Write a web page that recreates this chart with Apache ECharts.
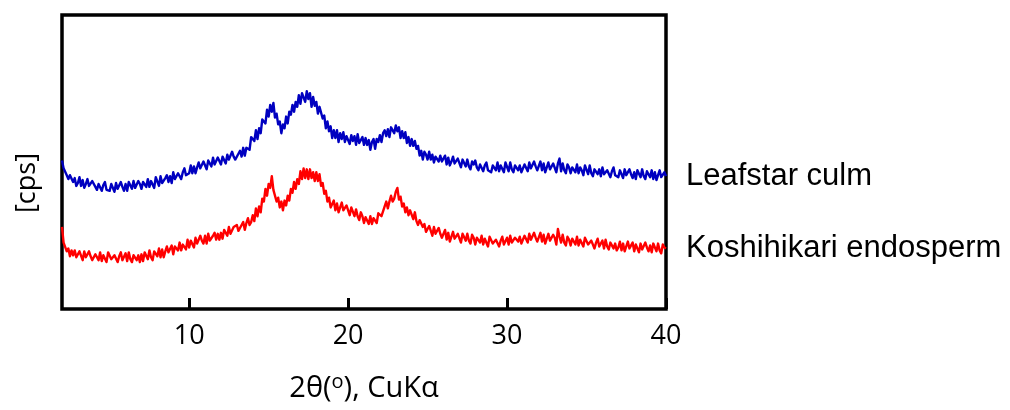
<!DOCTYPE html>
<html>
<head>
<meta charset="utf-8">
<script src="https://cdn.jsdelivr.net/npm/echarts@6/dist/echarts.min.js"></script>
<style>
  html, body { margin: 0; padding: 0; background: #fff; }
  #chart { width: 1010px; height: 410px; }
</style>
</head>
<body>
<div id="chart"></div>
<script>
// XRD scans, 2θ from 2° to 40° in 0.1° steps (relative intensity, cps)
const scanStart = 2.0;
const scanStep = 0.1;

const seriesNames = ['Leafstar culm', 'Koshihikari endosperm'];
const seriesColors = ['#0000c0', '#ff0000'];

const leafstarCulm = [
  152,144,145,137,133,137,138,130,134,126,
  129,135,126,132,124,128,133,126,124,131,
  132,125,122,128,130,121,127,130,122,123,
  121,128,127,120,129,123,122,130,125,121,
  128,121,130,129,123,131,124,122,131,128,
  123,130,132,125,133,125,131,129,124,135,
  134,126,136,129,127,134,137,130,136,129,
  140,133,132,139,141,133,140,144,137,139,
  139,147,139,146,139,145,150,144,143,151,
  149,143,152,152,146,155,148,146,155,153,
  148,156,155,149,158,153,152,161,156,153,
  152,159,162,156,165,157,165,165,163,176,
  178,172,183,174,185,180,194,193,190,204,
  197,209,202,211,196,200,189,192,180,189,
  185,197,190,202,199,209,202,212,207,219,
  210,221,222,212,223,215,221,207,217,208,
  212,200,207,206,195,198,185,192,182,187,
  175,183,175,183,171,180,174,181,171,177,
  178,169,178,172,177,168,179,170,168,176,
  168,175,168,173,163,171,174,164,174,171,
  178,171,180,183,177,184,176,186,185,180,
  188,182,186,175,182,175,181,170,176,167,
  174,167,172,164,167,157,162,153,161,158,
  153,161,153,158,150,156,157,151,157,151,
  151,157,148,155,147,151,156,149,147,154,
  152,145,153,152,146,153,146,143,151,148,
  152,145,142,148,150,141,147,150,142,143,
  140,147,149,142,150,141,147,145,140,150,
  149,141,150,143,140,147,149,142,147,140,
  141,148,148,141,150,144,143,151,146,142,
  144,151,142,149,140,145,150,143,142,149,
  147,140,149,154,141,149,142,139,148,145,
  139,145,147,140,148,139,145,142,137,147,
  146,138,147,139,136,143,145,138,143,136,
  145,138,136,142,144,135,141,145,137,137,
  135,142,141,134,143,137,136,143,138,134,
  140,133,142,141,135,143,136,133,141,138,
  135,142,133,140,132,137,142,135,134,140,
  136
];

const koshihikariEndosperm = [
  84,68,68,59,62,54,60,55,60,53,
  52,59,57,50,59,53,51,59,54,50,
  49,56,58,50,58,49,55,53,48,58,
  58,51,49,55,57,48,54,58,50,51,
  57,49,58,51,48,55,57,50,55,48,
  56,49,58,57,51,60,53,50,59,57,
  54,62,53,61,53,59,64,58,57,65,
  56,64,66,60,68,60,66,65,61,71,
  63,70,70,63,73,67,67,75,70,67,
  75,67,77,70,68,75,78,71,77,71,
  78,72,81,81,75,84,77,75,84,82,
  86,80,79,86,89,81,88,93,86,89,
  96,90,103,95,105,99,113,110,123,116,
  128,124,136,122,123,110,114,104,110,101,
  111,106,116,111,123,119,130,123,133,128,
  141,133,144,134,143,133,143,134,140,131,
  140,131,138,126,129,118,121,110,114,104,
  104,111,101,108,99,104,109,101,100,106,
  104,96,104,102,95,102,95,91,99,95,
  88,94,94,87,95,87,93,92,88,98,
  99,95,96,105,110,103,110,116,110,113,
  120,124,112,115,105,108,99,104,96,101,
  102,92,99,90,86,91,92,84,87,79,
  79,85,83,75,84,77,75,83,77,73,
  74,81,71,78,69,74,79,72,70,77,
  75,68,77,76,70,77,70,67,76,73,
  66,73,75,68,75,66,72,70,64,74,
  74,67,65,71,73,64,70,74,66,67,
  73,66,75,68,66,73,75,69,74,67,
  68,75,75,68,77,71,70,78,73,69,
  71,78,69,76,67,72,77,70,69,76,
  73,66,82,74,68,76,68,65,74,71,
  65,72,74,66,74,65,71,69,64,73,
  73,66,64,70,72,62,68,72,64,65,
  70,62,71,64,61,68,69,62,67,60,
  63,69,60,67,59,64,69,62,61,68,
  59,66,65,58,67,61,60,68,63,59,
  65,58,67,65,59,67,60,57,66,63,
  62
];

const xTicks = [10, 20, 30, 40];
const xAxisTitle = '2θ({sup|o}), CuKα';
const yAxisTitle = '[cps]';

function toPairs(values) {
  return values.map((v, i) => [+(scanStart + i * scanStep).toFixed(1), v]);
}

const chart = echarts.init(document.getElementById('chart'), null, { renderer: 'canvas' });

const labelFont = 'Open Sans';

chart.setOption({
  animation: false,
  backgroundColor: '#ffffff',
  grid: {
    left: 62, right: 344, top: 15, bottom: 94,
    show: true, borderColor: '#000', borderWidth: 3.5, backgroundColor: 'transparent'
  },
  xAxis: {
    type: 'value', min: 2, max: 40,
    axisLine: { show: false },
    splitLine: { show: false },
    axisTick: {
      show: true, inside: true, length: 11, customValues: xTicks,
      lineStyle: { color: '#000', width: 3 }
    },
    axisLabel: {
      customValues: xTicks, margin: 14,
      color: '#000', fontFamily: labelFont, fontSize: 27
    },
    name: xAxisTitle,
    nameLocation: 'middle',
    nameGap: 63,
    nameTextStyle: {
      color: '#000', fontFamily: labelFont, fontSize: 29, lineHeight: 33,
      rich: {
        sup: { fontFamily: labelFont, fontSize: 20, lineHeight: 20, verticalAlign: 'top', color: '#000' }
      }
    }
  },
  yAxis: {
    type: 'value', min: 0, max: 301,
    axisLine: { show: false },
    axisTick: { show: false },
    axisLabel: { show: false },
    splitLine: { show: false }
  },
  graphic: [{
    type: 'text', x: 27, y: 183, rotation: Math.PI / 2,
    style: {
      text: yAxisTitle, fill: '#000', fontFamily: labelFont, fontSize: 27,
      align: 'center', verticalAlign: 'middle'
    }
  }],
  series: [leafstarCulm, koshihikariEndosperm].map((vals, k) => ({
    name: seriesNames[k],
    type: 'line',
    data: toPairs(vals),
    showSymbol: false,
    symbol: 'none',
    lineStyle: { color: seriesColors[k], width: 2.4, join: 'round' },
    itemStyle: { color: seriesColors[k] },
    clip: false,
    endLabel: {
      show: true, formatter: '{a}', distance: 20,
      color: '#000', fontFamily: 'Liberation Sans', fontSize: 31
    }
  }))
});
</script>
</body>
</html>
